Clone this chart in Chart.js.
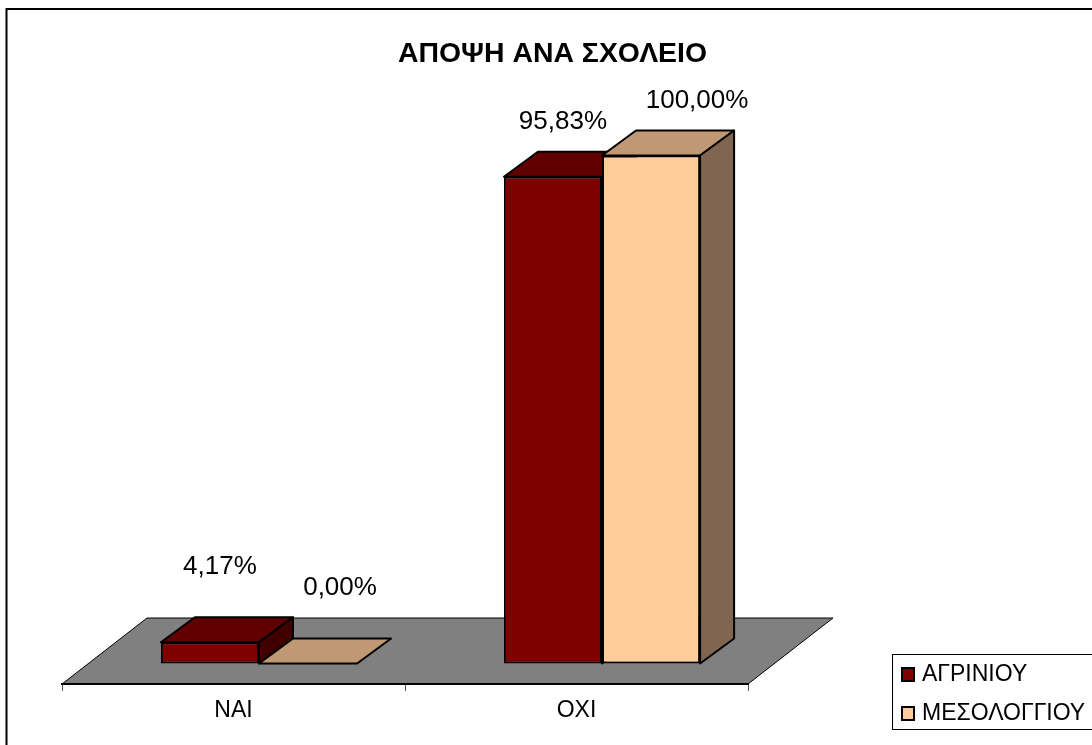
<!DOCTYPE html>
<html>
<head>
<meta charset="utf-8">
<title>ΑΠΟΨΗ ΑΝΑ ΣΧΟΛΕΙΟ</title>
<style>
  html, body { margin: 0; background: #fff; overflow: hidden; }
  canvas { display: block; }
</style>
</head>
<body>
<canvas id="chart" width="1092" height="745"></canvas>
<script src="https://cdn.jsdelivr.net/npm/chart.js@4/dist/chart.umd.js"></script>
<script>
const chartTitle = 'ΑΠΟΨΗ ΑΝΑ ΣΧΟΛΕΙΟ';
const categories = ['ΝΑΙ', 'ΟΧΙ'];
const agrinioValues = [4.17, 95.83];
const mesolongiValues = [0, 100];
const seriesNames = ['ΑΓΡΙΝΙΟΥ', 'ΜΕΣΟΛΟΓΓΙΟΥ'];

const FONT = '"Liberation Sans", Arial, sans-serif';
// the bars stand further back on the floor than the axis line
const FLOOR = { dx: 85, dy: -66 };
const BAR_SHIFT = { x: 25.5, y: -20.5 };
const BAR_DEPTH = { dx: 34, dy: -25 };
const FACES = [
  { top: '#600000', side: '#400000' },
  { top: '#bf9973', side: '#806650' },
];
// where Excel left the value labels, relative to the top of the bar front
const LABEL_OFFSETS = [
  [[10, -75], [10, -55]],
  [[32, -76], [46, -55]],
];

function poly(ctx, pts, fill, width) {
  ctx.beginPath();
  pts.forEach(([x, y], i) => (i ? ctx.lineTo(x, y) : ctx.moveTo(x, y)));
  ctx.closePath();
  ctx.fillStyle = fill;
  ctx.fill();
  ctx.lineWidth = width;
  ctx.strokeStyle = '#000';
  ctx.lineJoin = 'round';
  ctx.stroke();
}

function drawFaces(ctx, meta, index) {
  const { dx, dy } = BAR_DEPTH;
  meta.data.forEach((bar) => {
    const p = bar.getProps(['x', 'y', 'base', 'width']);
    const l = p.x - p.width / 2;
    const r = p.x + p.width / 2;
    poly(ctx, [[l, p.y], [r, p.y], [r + dx, p.y + dy], [l + dx, p.y + dy]], FACES[index].top, 2);
    if (p.base - p.y > 0) {
      poly(ctx, [[r, p.y], [r + dx, p.y + dy], [r + dx, p.base + dy], [r, p.base]], FACES[index].side, 2);
    }
  });
}

const pseudo3d = {
  id: 'pseudo3d',
  beforeDraw(chart) {
    const { ctx, scales: { x } } = chart;
    const bottom = x.top;
    ctx.save();
    ctx.strokeStyle = '#000';
    ctx.lineWidth = 2;
    ctx.strokeRect(6.5, 9, 1200, 900);
    poly(ctx, [
      [x.left, bottom],
      [x.right, bottom],
      [x.right + FLOOR.dx, bottom + FLOOR.dy],
      [x.left + FLOOR.dx, bottom + FLOOR.dy],
    ], '#808080', 1);
    ctx.restore();
  },
  // Chart.js paints the first dataset last; here the second one has to cover it
  beforeDatasetsDraw(chart) {
    const { ctx } = chart;
    ctx.save();
    ctx.translate(BAR_SHIFT.x, BAR_SHIFT.y);
    chart.data.datasets.forEach((ds, i) => {
      const meta = chart.getDatasetMeta(i);
      meta.controller.draw();
      drawFaces(ctx, meta, i);
    });
    ctx.restore();
    return false;
  },
  afterDraw(chart) {
    const { ctx } = chart;
    ctx.save();
    ctx.fillStyle = '#000';
    ctx.textBaseline = 'middle';
    ctx.textAlign = 'center';

    // value labels
    ctx.font = `26px ${FONT}`;
    chart.data.datasets.forEach((ds, di) => {
      chart.getDatasetMeta(di).data.forEach((bar, i) => {
        const [ox, oy] = LABEL_OFFSETS[di][i];
        const text = ds.data[i].toFixed(2).replace('.', ',') + '%';
        ctx.fillText(text, bar.x + BAR_SHIFT.x + ox, bar.y + BAR_SHIFT.y + oy);
      });
    });

    // title
    ctx.textBaseline = 'alphabetic';
    ctx.font = `bold 28.4px ${FONT}`;
    ctx.fillText(chartTitle, 552.5, 62);

    // legend box, cut off by the right edge like in the original
    ctx.fillStyle = '#fff';
    ctx.strokeStyle = '#000';
    ctx.lineWidth = 1;
    ctx.fillRect(892.5, 654.5, 300, 75);
    ctx.strokeRect(892.5, 654.5, 300, 75);
    ctx.textAlign = 'left';
    ctx.font = `23px ${FONT}`;
    chart.data.datasets.forEach((ds, i) => {
      const rowY = [668, 707][i];
      ctx.fillStyle = ds.backgroundColor;
      ctx.lineWidth = 2;
      ctx.fillRect(902, rowY, 12, 13);
      ctx.strokeRect(902, rowY, 12, 13);
      ctx.fillStyle = '#000';
      ctx.fillText(ds.label, 922, rowY + 13);
    });
    ctx.restore();
  },
};

new Chart(document.getElementById('chart'), {
  type: 'bar',
  data: {
    labels: categories,
    datasets: [
      { label: seriesNames[0], data: agrinioValues, backgroundColor: '#800000' },
      { label: seriesNames[1], data: mesolongiValues, backgroundColor: '#ffcc99' },
    ],
  },
  options: {
    responsive: false,
    animation: false,
    layout: { padding: { left: 62, right: 344, top: 176, bottom: 0 } },
    datasets: {
      bar: {
        categoryPercentage: 0.572,
        barPercentage: 1,
        borderColor: '#000',
        borderWidth: 2,
        borderSkipped: false,
      },
    },
    plugins: { legend: { display: false }, title: { display: false }, tooltip: { enabled: false } },
    scales: {
      x: {
        afterFit: (scale) => { scale.height = 61; },
        border: { color: '#000', width: 2 },
        grid: { drawOnChartArea: false, tickLength: 7, color: '#555', lineWidth: 1 },
        ticks: { color: '#000', font: { family: FONT, size: 23 }, padding: 6, maxRotation: 0 },
      },
      y: { display: false, min: 0, max: 100 },
    },
  },
  plugins: [pseudo3d],
});
</script>
</body>
</html>
